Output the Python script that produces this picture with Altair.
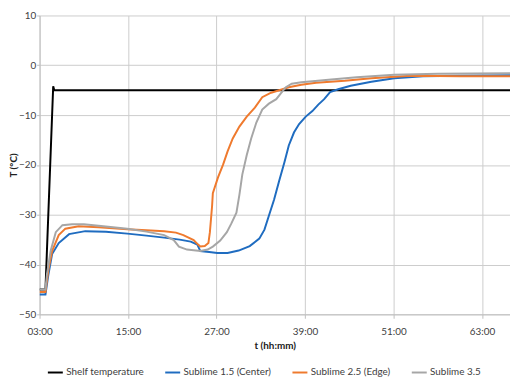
import altair as alt
import pandas as pd

series_names = ["Shelf temperature", "Sublime 1.5 (Center)", "Sublime 2.5 (Edge)", "Sublime 3.5"]
series_colors = ["#000000", "#1f6cc0", "#ef7a2e", "#a6a6a6"]

shelf_t = [3.0, 3.8, 4.85, 5.0, 67.2]
shelf_T = [-45.0, -45.0, -4.2, -5.0, -5.0]

center_t = [3.0, 3.8, 4.2, 4.7, 5.6, 7.0, 9.2, 12, 14.9, 17.5, 19.9, 22, 23.5, 24.4, 24.8, 26, 27.1, 28.5, 30,
            31.5, 32.8, 33.5, 34.1, 34.8, 35.5, 36.2, 36.8, 37.5, 38.2, 39.1, 40.0, 40.8, 41.6, 42.4, 43.5, 45.2,
            48, 51.1, 55, 60, 67.2]
center_T = [-46, -46, -42, -37.9, -35.7, -33.9, -33.3, -33.4, -33.8, -34.2, -34.6, -35.0, -35.4, -36, -37.3,
            -37.5, -37.7, -37.7, -37.2, -36.3, -34.8, -33, -30.2, -27, -23.2, -19.5, -16.1, -13.5, -11.8, -10.3,
            -9.2, -7.9, -6.8, -5.4, -4.8, -4.1, -3.3, -2.6, -2.2, -2.1, -2.0]

edge_t = [3.0, 3.8, 4.2, 4.7, 5.6, 6.5, 8.3, 11, 14.9, 17.5, 19.9, 21.5, 22.5, 23.9, 24.5, 24.8, 25.4, 25.9,
          26.1, 26.4, 26.5, 27.2, 27.9, 28.5, 29.2, 30.1, 31.1, 32.2, 33.2, 34.4, 35.5, 36.8, 38.5, 40.5, 44.4,
          48, 53.3, 60, 67.2]
edge_T = [-45.5, -45.5, -41, -37.3, -34.1, -32.8, -32.3, -32.5, -32.9, -33.1, -33.3, -33.6, -34.1, -35.1, -36.0,
          -36.4, -36.3, -35.7, -33.5, -28.2, -25.7, -22.5, -19.9, -17.3, -14.7, -12.3, -10.3, -8.5, -6.4, -5.5,
          -5.0, -4.4, -3.9, -3.5, -3.1, -2.6, -2.1, -2.2, -2.2]

s35_t = [3.0, 3.8, 4.0, 4.5, 5.2, 6.1, 7.4, 9, 11, 14.9, 17.5, 19.9, 21.2, 21.9, 23, 24.8, 25.8, 26.5, 27.5,
         28.4, 29.0, 29.7, 30.1, 30.5, 31.1, 31.7, 32.4, 33.2, 34.1, 35.1, 35.8, 36.4, 37.2, 38.5, 40, 42.2, 46,
         51.1, 57, 67.2]
s35_T = [-45, -45, -42, -37.3, -33.5, -32.1, -31.9, -31.9, -32.2, -32.8, -33.4, -34.1, -35.1, -36.4, -37.0,
         -37.3, -37.0, -36.4, -35.2, -33.5, -31.8, -29.6, -26, -21.9, -18, -14.7, -11.5, -8.9, -7.7, -6.8, -5.5,
         -4.4, -3.7, -3.4, -3.2, -2.9, -2.4, -1.9, -1.7, -1.6]

x_ticks = [3, 15, 27, 39, 51, 63]
y_ticks = [-50, -40, -30, -20, -10, 0, 10]

rows = []
for name, ts, vs in zip(series_names, [shelf_t, center_t, edge_t, s35_t], [shelf_T, center_T, edge_T, s35_T]):
    for i, (t, v) in enumerate(zip(ts, vs)):
        rows.append({"series": name, "t": t, "T": v, "order": i})
df = pd.DataFrame(rows)

FONT = "Lato"

chart = alt.Chart(df).mark_line(strokeWidth=2, clip=True).encode(
    x=alt.X("t:Q", scale=alt.Scale(domain=[3, 66.8], nice=False, zero=False),
            axis=alt.Axis(values=x_ticks, title="t (hh:mm)", labelFlush=False, labelPadding=8,
                          titlePadding=5,
                          labelExpr="(datum.value < 10 ? '0' : '') + datum.value + ':00'")),
    y=alt.Y("T:Q", scale=alt.Scale(domain=[-50, 10], nice=False),
            axis=alt.Axis(values=y_ticks, title="T (°C)", labelFlush=False, labelPadding=1,
                          titlePadding=0, tickSize=3)),
    color=alt.Color("series:N", scale=alt.Scale(domain=series_names, range=series_colors),
                    legend=alt.Legend(title=None, orient="none", direction="horizontal",
                                      legendX=7, legendY=353, symbolType="stroke",
                                      symbolStrokeWidth=2, symbolSize=230, labelOffset=2,
                                      columnPadding=17, labelFontSize=10, labelFont=FONT,
                                      labelColor="#404040")),
    order="order:Q",
).properties(
    width=477, height=303,
    padding={"left": 0, "top": 0, "right": 0, "bottom": 0},
).configure_axis(
    labelFont=FONT, titleFont=FONT, labelFontSize=10, titleFontSize=10,
    labelColor="#404040", titleColor="#202020", titleFontWeight="bold",
    gridColor="#cccccc", gridWidth=1, domainColor="#bfbfbf", tickColor="#bfbfbf",
    tickSize=4,
).configure_view(stroke=None)

chart.save("out.html", embed_options={"renderer": "svg", "actions": False})
